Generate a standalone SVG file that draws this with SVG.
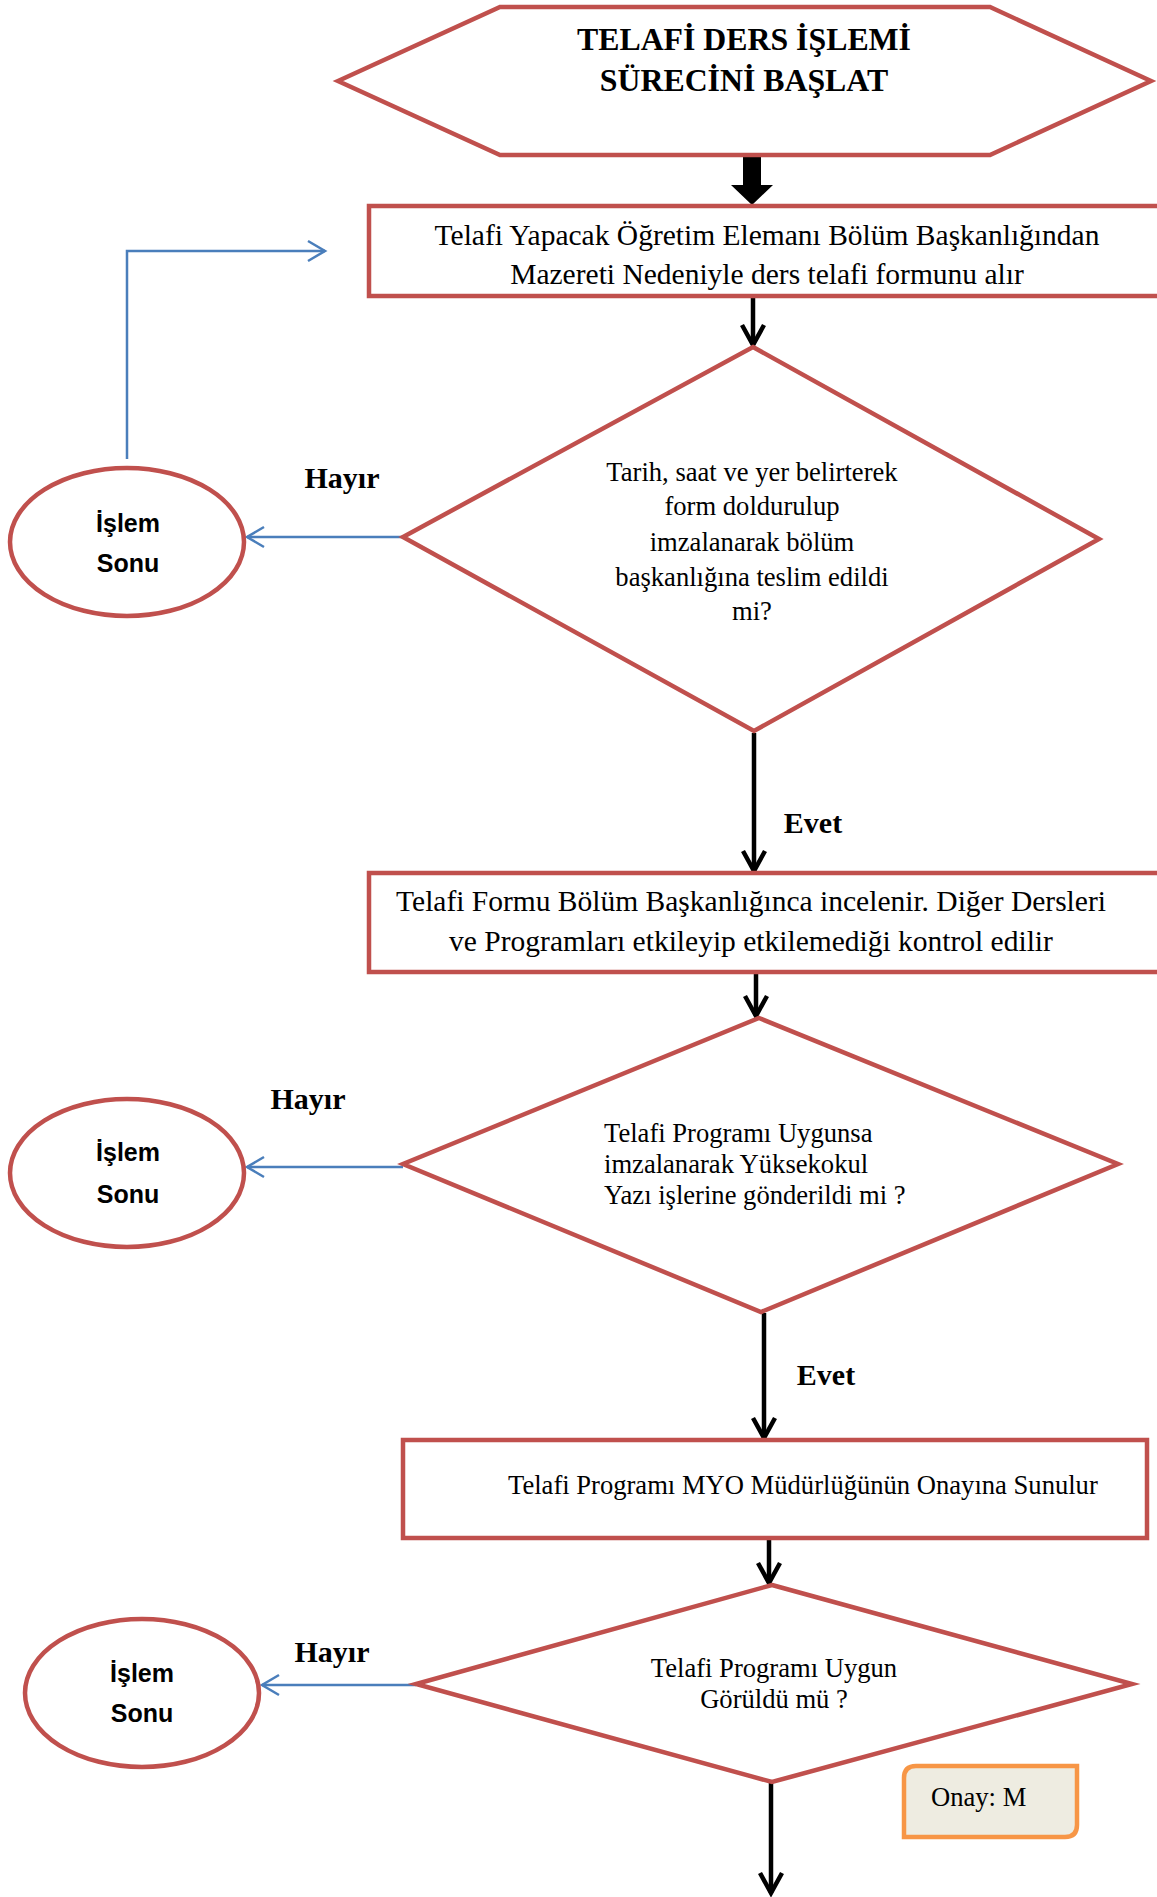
<svg xmlns="http://www.w3.org/2000/svg" width="1157" height="1897" viewBox="0 0 1157 1897">
<style>
.shape{fill:#ffffff;stroke:#c0504d;stroke-width:4.5;stroke-linejoin:miter}
.blk{stroke:#000000;stroke-width:4.5;fill:none}
.blu{stroke:#4a7ebb;stroke-width:2.5;fill:none}
.t{font-family:"Liberation Serif","Times New Roman",serif;fill:#000000}
.big{font-size:29.5px}
.sm{font-size:26.6px}
.lbl{font-family:"Liberation Serif","Times New Roman",serif;font-weight:bold;font-size:30px;fill:#000000}
.hdr{font-family:"Liberation Serif","Times New Roman",serif;font-weight:bold;font-size:31.8px;fill:#000000}
.end{font-family:"Liberation Sans",Arial,sans-serif;font-weight:bold;font-size:25px;fill:#000000}
</style>
<defs>
<marker id="ab" markerUnits="userSpaceOnUse" viewBox="-24 -14 28 28" refX="0" refY="0" markerWidth="28" markerHeight="28" orient="auto">
<path d="M-20,-11 L0,0 L-20,11" fill="none" stroke="#000000" stroke-width="4.5"/>
</marker>
<marker id="au" markerUnits="userSpaceOnUse" viewBox="-20 -12 24 24" refX="0" refY="0" markerWidth="24" markerHeight="24" orient="auto">
<path d="M-17,-10 L0,0 L-17,10" fill="none" stroke="#4a7ebb" stroke-width="2.5"/>
</marker>
</defs>
<rect x="0" y="0" width="1157" height="1897" fill="#ffffff"/>

<g id="connectors">
<path d="M743,152 H761 V185 H773 L752,205 L731,185 H743 Z" fill="#000000"/>
<line class="blk" x1="753" y1="297" x2="753" y2="345" marker-end="url(#ab)"/>
<line class="blk" x1="754" y1="733" x2="754" y2="871" marker-end="url(#ab)"/>
<line class="blk" x1="756" y1="974" x2="756" y2="1016" marker-end="url(#ab)"/>
<line class="blk" x1="764" y1="1313" x2="764" y2="1438" marker-end="url(#ab)"/>
<line class="blk" x1="769" y1="1540" x2="769" y2="1583" marker-end="url(#ab)"/>
<line class="blk" x1="771" y1="1783" x2="771" y2="1893" marker-end="url(#ab)"/>
<path class="blu" d="M127,459 V251 H325" marker-end="url(#au)"/>
<line class="blu" x1="403" y1="537" x2="247" y2="537" marker-end="url(#au)"/>
<line class="blu" x1="403" y1="1167" x2="247" y2="1167" marker-end="url(#au)"/>
<line class="blu" x1="416" y1="1685" x2="262" y2="1685" marker-end="url(#au)"/>
<text class="lbl" x="342" y="488" text-anchor="middle">Hayır</text>
<text class="lbl" x="813" y="833" text-anchor="middle">Evet</text>
<text class="lbl" x="308" y="1109" text-anchor="middle">Hayır</text>
<text class="lbl" x="826" y="1385" text-anchor="middle">Evet</text>
<text class="lbl" x="332" y="1662" text-anchor="middle">Hayır</text>
</g>

<g id="start">
<polygon class="shape" points="338,81 500,7 990,7 1151,81 990,155 500,155"/>
<text class="hdr" x="744" y="50" text-anchor="middle">TELAFİ DERS İŞLEMİ</text>
<text class="hdr" x="744" y="91" text-anchor="middle">SÜRECİNİ BAŞLAT</text>
</g>

<g id="step1">
<rect class="shape" x="369" y="206" width="820" height="90"/>
<text class="t big" x="767" y="245" text-anchor="middle">Telafi Yapacak Öğretim Elemanı Bölüm Başkanlığından</text>
<text class="t big" x="767" y="284" text-anchor="middle">Mazereti Nedeniyle ders telafi formunu alır</text>
</g>

<g id="decision1">
<polygon class="shape" points="753,347 1099,539 754,731 403,537"/>
<text class="t sm" x="752" y="481" text-anchor="middle">Tarih, saat ve yer belirterek</text>
<text class="t sm" x="752" y="515" text-anchor="middle">form doldurulup</text>
<text class="t sm" x="752" y="551" text-anchor="middle">imzalanarak bölüm</text>
<text class="t sm" x="752" y="586" text-anchor="middle">başkanlığına teslim edildi</text>
<text class="t sm" x="752" y="620" text-anchor="middle">mi?</text>
</g>

<g id="end1">
<ellipse class="shape" cx="127" cy="542" rx="117" ry="74"/>
<text class="end" x="128" y="532" text-anchor="middle">İşlem</text>
<text class="end" x="128" y="572" text-anchor="middle">Sonu</text>
</g>

<g id="step2">
<rect class="shape" x="369" y="873" width="820" height="99"/>
<text class="t big" x="751" y="911" text-anchor="middle">Telafi Formu Bölüm Başkanlığınca incelenir. Diğer Dersleri</text>
<text class="t big" x="751" y="951" text-anchor="middle">ve Programları etkileyip etkilemediği kontrol edilir</text>
</g>

<g id="decision2">
<polygon class="shape" points="759,1018 1118,1164 761,1312 403,1164"/>
<text class="t sm" x="604" y="1142">Telafi Programı Uygunsa</text>
<text class="t sm" x="604" y="1173">imzalanarak Yüksekokul</text>
<text class="t sm" x="604" y="1204">Yazı işlerine gönderildi mi ?</text>
</g>

<g id="end2">
<ellipse class="shape" cx="127" cy="1173" rx="117" ry="74"/>
<text class="end" x="128" y="1161" text-anchor="middle">İşlem</text>
<text class="end" x="128" y="1203" text-anchor="middle">Sonu</text>
</g>

<g id="step3">
<rect class="shape" x="403" y="1440" width="744" height="98"/>
<text class="t sm" x="508" y="1494">Telafi Programı MYO Müdürlüğünün Onayına Sunulur</text>
</g>

<g id="decision3">
<polygon class="shape" points="772,1585 1132,1684 772,1782 416,1684"/>
<text class="t sm" x="774" y="1677" text-anchor="middle">Telafi Programı Uygun</text>
<text class="t sm" x="774" y="1708" text-anchor="middle">Görüldü mü ?</text>
</g>

<g id="end3">
<ellipse class="shape" cx="142" cy="1693" rx="117" ry="74"/>
<text class="end" x="142" y="1682" text-anchor="middle">İşlem</text>
<text class="end" x="142" y="1722" text-anchor="middle">Sonu</text>
</g>

<g id="approval">
<path d="M916,1766 H1077 V1825 Q1077,1837 1065,1837 H904 V1778 Q904,1766 916,1766 Z" fill="#eeece1" stroke="#f79646" stroke-width="4.5"/>
<text class="t sm" x="931" y="1806">Onay: M</text>
</g>
</svg>
